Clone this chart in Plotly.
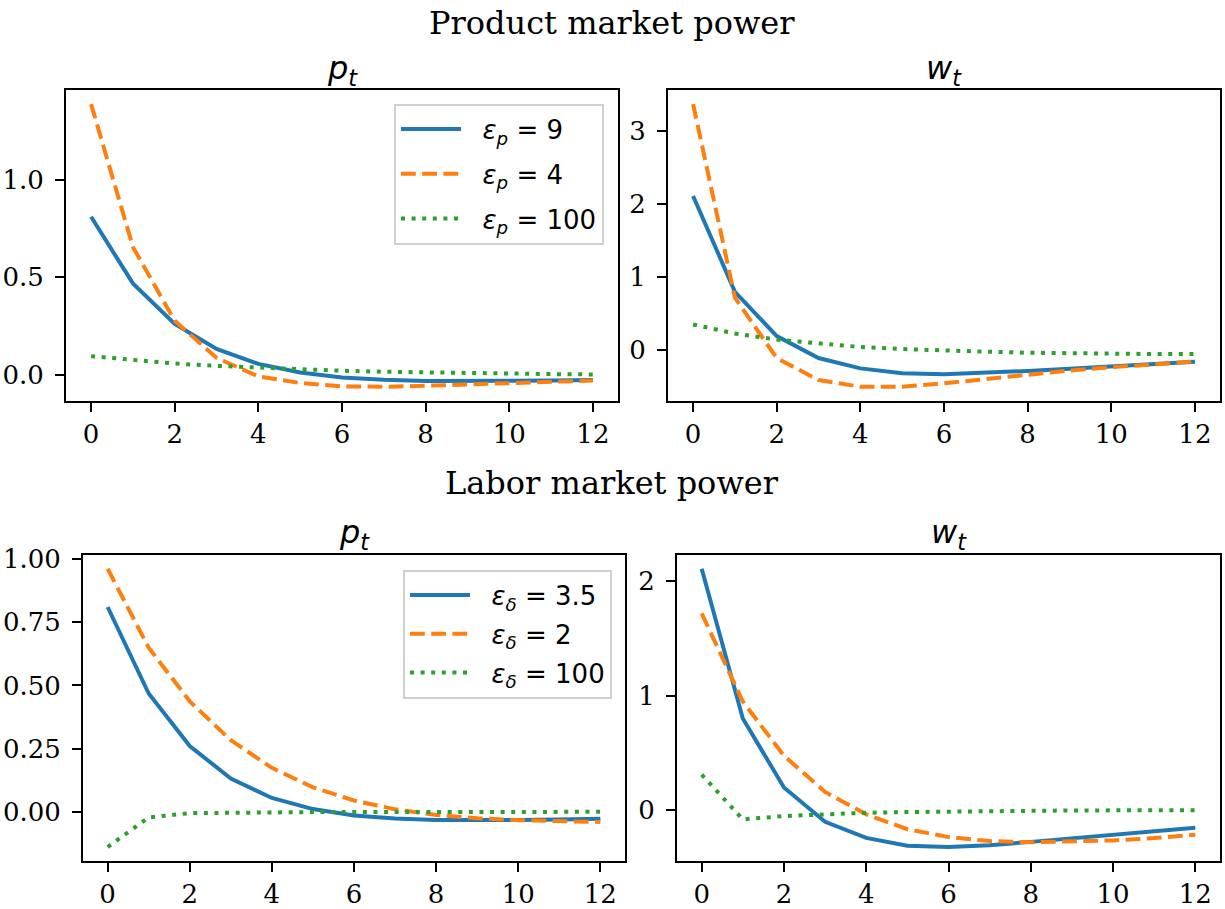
import plotly.graph_objects as go

# Horizon (periods after the shock)
t = list(range(13))

# Baseline responses (shared by both rows)
base_p = [0.810, 0.468, 0.260, 0.132, 0.055, 0.011, -0.014, -0.026, -0.032, -0.033, -0.032, -0.030, -0.027]
base_w = [2.110, 0.800, 0.195, -0.105, -0.246, -0.314, -0.326, -0.310, -0.281, -0.250, -0.216, -0.186, -0.157]

# Product market power
prod_p_eps4 = [1.388, 0.655, 0.276, 0.086, -0.009, -0.043, -0.060, -0.062, -0.057, -0.050, -0.043, -0.035, -0.030]
prod_p_eps100 = [0.095, 0.074, 0.057, 0.045, 0.035, 0.027, 0.020, 0.015, 0.011, 0.008, 0.005, 0.003, 0.001]
prod_w_eps4 = [3.366, 0.720, -0.106, -0.405, -0.497, -0.497, -0.450, -0.390, -0.335, -0.276, -0.230, -0.190, -0.152]
prod_w_eps100 = [0.354, 0.230, 0.147, 0.092, 0.046, 0.018, -0.005, -0.018, -0.032, -0.041, -0.046, -0.050, -0.050]

# Labor market power
lab_p_eps2 = [0.961, 0.649, 0.437, 0.283, 0.174, 0.097, 0.045, 0.010, -0.012, -0.025, -0.033, -0.037, -0.040]
lab_p_eps100 = [-0.139, -0.022, -0.005, -0.003, -0.002, -0.001, -0.001, 0.000, 0.000, 0.000, 0.000, 0.000, 0.000]
lab_w_eps2 = [1.720, 0.948, 0.473, 0.156, -0.040, -0.170, -0.239, -0.274, -0.285, -0.280, -0.268, -0.248, -0.219]
lab_w_eps100 = [0.308, -0.084, -0.055, -0.037, -0.026, -0.020, -0.014, -0.012, -0.009, -0.006, -0.005, -0.003, -0.003]

GAP = "&nbsp;&nbsp;"
prod_labels = [GAP + "<i>ε</i><sub><i>p</i></sub> = " + v for v in ["9", "4", "100"]]
lab_labels = [GAP + "<i>ε</i><sub><i>δ</i></sub> = " + v for v in ["3.5", "2", "100"]]

row_titles = ["Product market power", "Labor market power"]
col_titles = ["<i>p</i><sub><i>t</i></sub>", "<i>w</i><sub><i>t</i></sub>"]

W, H = 1225, 909
COLORS = ["#1f77b4", "#ff7f0e", "#2ca02c"]
DASHES = ["solid", "14.8px,6.4px", "4px,6.6px"]
LW = 4

# panel frames in pixels: (left, right, top, bottom)
frames = {
    1: (66, 618, 81, 400),
    2: (668, 1220, 81, 400),
    3: (83, 625, 558, 872),
    4: (677, 1220, 558, 872),
}
# vertical offset of each panel heading from its frame
title_shift = {1: -3, 2: -3, 3: -2, 4: -2}

panels = [
    (1, [base_p, prod_p_eps4, prod_p_eps100], prod_labels, "legend", 0.5, ".1f"),
    (2, [base_w, prod_w_eps4, prod_w_eps100], None, None, 1, "d"),
    (3, [base_p, lab_p_eps2, lab_p_eps100], lab_labels, "legend2", 0.25, ".2f"),
    (4, [base_w, lab_w_eps2, lab_w_eps100], None, None, 1, "d"),
]

fig = go.Figure()
layout = {}
serif = "DejaVu Serif"
sans = "DejaVu Sans"

for idx, series, labels, legend_name, dtick, fmt in panels:
    xa = "x" if idx == 1 else f"x{idx}"
    ya = "y" if idx == 1 else f"y{idx}"
    for k, ys in enumerate(series):
        fig.add_trace(go.Scatter(
            x=t, y=ys, mode="lines", xaxis=xa, yaxis=ya,
            line=dict(color=COLORS[k], width=LW, dash=DASHES[k]),
            name=labels[k] if labels else "",
            showlegend=labels is not None,
            legend=legend_name if legend_name else "legend",
            legendgroup=f"g{idx}_{k}",
        ))
    lo = min(min(s) for s in series)
    hi = max(max(s) for s in series)
    pad = 0.05 * (hi - lo)
    l, r, tp, b = frames[idx]
    axis_common = dict(
        showline=True, linecolor="black", linewidth=2, mirror=True,
        ticks="outside", ticklen=9, tickwidth=2, tickcolor="black",
        showgrid=False, zeroline=False,
        tickfont=dict(family=serif, size=26, color="black"),
    )
    layout["xaxis" if idx == 1 else f"xaxis{idx}"] = dict(
        axis_common, domain=[l / W, r / W], range=[-0.6, 12.6],
        tickmode="linear", tick0=0, dtick=2, ticklabelstandoff=0,
        anchor=ya,
    )
    layout["yaxis" if idx == 1 else f"yaxis{idx}"] = dict(
        axis_common, domain=[1 - b / H, 1 - tp / H], range=[lo - pad, hi + pad],
        tickmode="linear", tick0=0, dtick=dtick, tickformat=fmt,
        ticklabelstandoff=6, anchor=xa,
    )

annotations = []
# row headings
for text, yc in zip(row_titles, [12, 484]):
    annotations.append(dict(
        text=text, x=612 / W, y=1 - yc / H, xref="paper", yref="paper",
        xanchor="center", yanchor="middle", showarrow=False,
        font=dict(family=serif, size=32, color="black"),
    ))
# panel headings
for idx, title in zip([1, 2, 3, 4], col_titles * 2):
    l, r, tp, b = frames[idx]
    annotations.append(dict(
        text=title, x=(l + r) / 2 / W, y=1 - tp / H, xref="paper", yref="paper",
        xanchor="center", yanchor="bottom", yshift=title_shift[idx], showarrow=False,
        font=dict(family=sans, size=32, color="black"),
    ))

legend_common = dict(
    bgcolor="rgba(255,255,255,0.8)", bordercolor="#d0d0d0", borderwidth=2,
    font=dict(family=sans, size=26, color="black"),
    xanchor="left", yanchor="top", itemwidth=60,
    traceorder="grouped",
)

fig.update_layout(
    width=W, height=H, margin=dict(l=0, r=0, t=0, b=0),
    paper_bgcolor="white", plot_bgcolor="white",
    annotations=annotations,
    legend=dict(legend_common, x=394 / W, y=1 - 95 / H, tracegroupgap=8),
    legend2=dict(legend_common, x=403 / W, y=1 - 573 / H, tracegroupgap=2),
    **layout,
)

fig.write_html("out.html")
